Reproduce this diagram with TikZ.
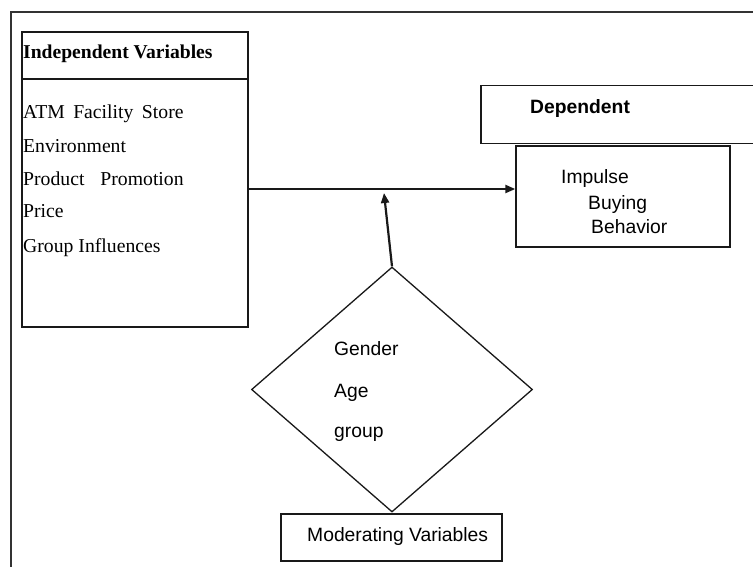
\documentclass[tikz,border=0pt]{standalone}
\usepackage{fontspec}
\setmainfont{Liberation Serif}
\newfontfamily\arialf{Liberation Sans}
\usetikzlibrary{shapes.geometric,arrows.meta}
\tikzset{
  box/.style={draw=black!90, line width=1.4pt, rectangle, inner sep=0pt},
  txt/.style={anchor=base west, inner sep=0pt, font=\fontsize{19.7}{22}\selectfont},
  stxt/.style={anchor=base west, inner sep=0pt, font=\arialf\fontsize{19.3}{22}\selectfont},
  conn/.style={line width=2.2pt, draw=black!90, -{Triangle[length=10pt,width=8pt]}},
}
\begin{document}
\begin{tikzpicture}[x=1pt,y=-1pt]
\useasboundingbox (0,0) rectangle (753,566);
\fill[white] (0,0) rectangle (753,566);
% outer frame
\draw[line width=2pt, draw=black!80] (11,570) -- (11,12) -- (760,12);
% independent box
\node[box, minimum width=226pt, minimum height=295pt] (indep) at (135,179.5) {};
\coordinate (divL) at (22,79);
\coordinate (divR) at (248,79);
\draw[line width=1.4pt, draw=black!90] (divL) -- (divR);
\node[txt, font=\bfseries\fontsize{19.6}{22}\selectfont] (indt) at (23,58) {Independent Variables};
\node[txt] (v1) at (23,118) {ATM\hspace{8.5pt}Facility\hspace{8.5pt}Store};
\node[txt] (v2) at (23,152) {Environment};
\node[txt] (v3) at (23,185) {Product\hspace{16pt}Promotion};
\node[txt] (v4) at (23,217) {Price};
\node[txt] (v5) at (23,252) {Group Influences};
% dependent
\node[box, minimum width=290pt, minimum height=58pt] (dep) at (626,114.5) {};
\node[stxt, font=\arialf\bfseries\fontsize{19.3}{22}\selectfont] (dept) at (530,113) {Dependent};
\node[box, minimum width=214pt, minimum height=101pt] (imp) at (623,196.5) {};
\node[stxt] (i1) at (561,183) {Impulse};
\node[stxt] (i2) at (588,209) {Buying};
\node[stxt] (i3) at (591,233) {Behavior};
% diamond
\node[draw=black!90, line width=1.3pt, diamond, inner sep=0pt, minimum width=281pt, minimum height=245pt, aspect=1.147] (dia) at (392,389.5) {};
\node[stxt] (g1) at (334,355) {Gender};
\node[stxt] (g2) at (334,397) {Age};
\node[stxt] (g3) at (334,437) {group};
% moderating
\node[box, minimum width=221pt, minimum height=47pt] (mod) at (391.5,537.5) {};
\node[stxt] (modt) at (307,541) {Moderating Variables};
% connectors
\coordinate (tip) at (384,193);
\draw[conn] (indep.east |- 0,189) -- (imp.west |- 0,189);
\draw[conn] (dia.north) -- (tip);
\end{tikzpicture}
\end{document}
